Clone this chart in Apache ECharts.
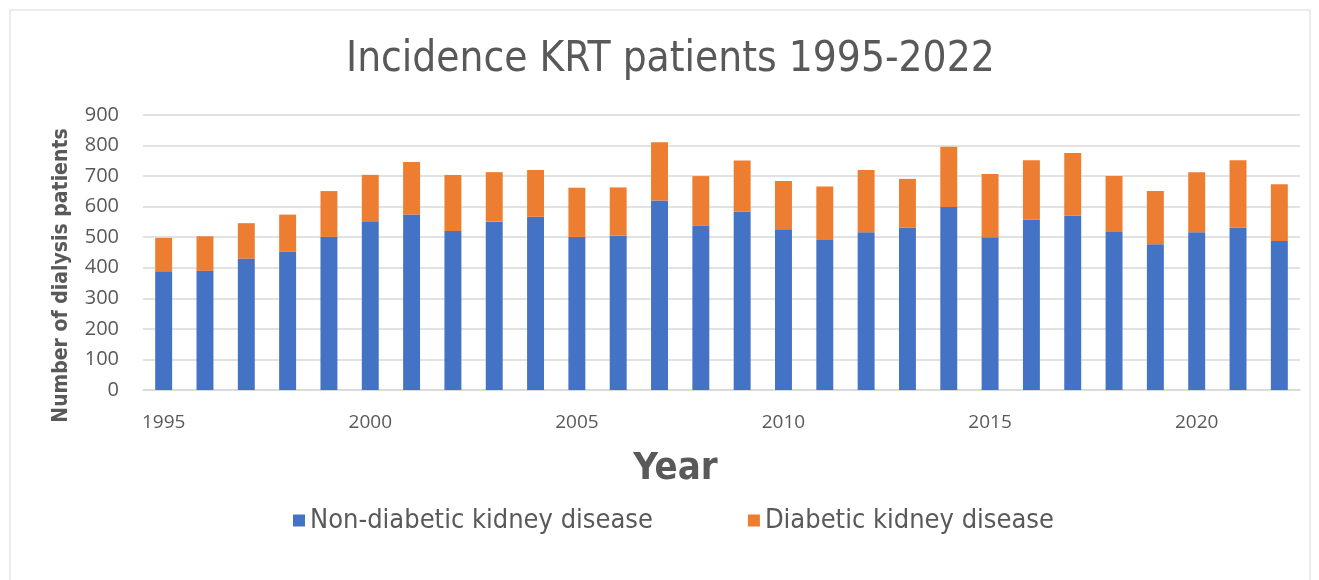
<!DOCTYPE html>
<html>
<head>
<meta charset="utf-8">
<script src="https://cdn.jsdelivr.net/npm/echarts@6/dist/echarts.min.js"></script>
<style>
  html, body { margin: 0; padding: 0; background: #fff; }
  #chart { width: 1319px; height: 580px; }
</style>
</head>
<body>
<div id="chart"></div>
<script>
// values
var years = ['1995', '1996', '1997', '1998', '1999', '2000', '2001', '2002', '2003', '2004',
    '2005', '2006', '2007', '2008', '2009', '2010', '2011', '2012', '2013', '2014',
    '2015', '2016', '2017', '2018', '2019', '2020', '2021', '2022']
var nonDiabetic = [389, 390, 430, 453, 501, 552, 574, 520, 551, 567,
    501, 505, 620, 537, 583, 526, 491, 516, 531, 599,
    500, 558, 570, 517, 477, 516, 532, 488]
var diabetic = [109, 113, 116, 121, 150, 152, 172, 184, 162, 153,
    161, 158, 191, 163, 168, 158, 175, 204, 160, 197,
    207, 194, 206, 183, 174, 197, 220, 185]

var font = "'DejaVu Sans Condensed', 'DejaVu Sans', sans-serif"
var tickFont = "'Open Sans', 'Noto Sans', sans-serif"
var textColor = '#595959'

var chart = echarts.init(document.getElementById('chart'), null, {renderer: 'canvas'})

var option = {
    animation: false,
    textStyle: {fontFamily: font},
    title: {
        text: 'Incidence KRT patients 1995-2022',
        left: 341,
        top: 34,
        textStyle: {fontFamily: font, fontSize: 42, fontWeight: 'normal', color: textColor}
    },
    graphic: [{
        type: 'rect',
        shape: {x: 10, y: 10, width: 1300, height: 600},
        style: {fill: 'none', stroke: '#d9d9d9', lineWidth: 1}
    }],
    legend: {
        bottom: 41,
        left: 288,
        itemWidth: 12,
        itemHeight: 12,
        itemGap: 95,
        icon: 'rect',
        textStyle: {fontFamily: font, fontSize: 27, color: textColor}
    },
    grid: {left: 143, right: 19, top: 115, bottom: 190, containLabel: false},
    xAxis: {
        type: 'category',
        data: years,
        name: 'Year',
        nameLocation: 'middle',
        nameGap: 60,
        nameTextStyle: {fontFamily: font, fontSize: 38, fontWeight: 'bold', color: textColor, padding: [0, 92, 0, 0]},
        axisLine: {lineStyle: {color: '#d9d9d9', width: 1.5}},
        axisTick: {show: false},
        axisLabel: {interval: 4, fontFamily: tickFont, fontSize: 19, color: textColor, margin: 23}
    },
    yAxis: {
        type: 'value',
        min: 0,
        max: 900,
        interval: 100,
        name: 'Number of dialysis patients',
        nameLocation: 'middle',
        nameGap: 71,
        nameTextStyle: {fontFamily: font, fontSize: 21, fontWeight: 'bold', color: textColor, padding: [0, 46, 0, 0]},
        axisLine: {show: false},
        axisTick: {show: false},
        axisLabel: {fontFamily: tickFont, fontSize: 20, color: textColor, margin: 24},
        splitLine: {lineStyle: {color: '#d9d9d9', width: 1.5}}
    },
    series: [{
        name: 'Non-diabetic kidney disease',
        type: 'bar',
        stack: 'total',
        barWidth: '41%',
        itemStyle: {color: '#4472C4'},
        data: nonDiabetic
    }, {
        name: 'Diabetic kidney disease',
        type: 'bar',
        stack: 'total',
        itemStyle: {color: '#ED7D31'},
        data: diabetic
    }]
}

chart.setOption(option)
</script>
</body>
</html>
